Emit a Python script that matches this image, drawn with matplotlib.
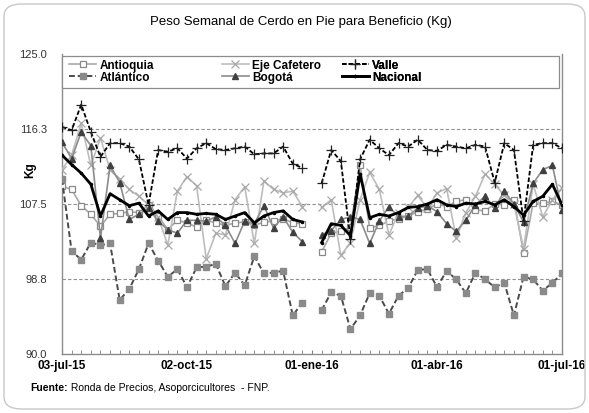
import numpy as np
import matplotlib
matplotlib.use("Agg")
import matplotlib.pyplot as plt
from matplotlib.patches import FancyBboxPatch, Rectangle

plt.rcParams['font.family'] = ['Liberation Sans', 'DejaVu Sans']

nan = np.nan
weeks = np.arange(53)
tick_weeks = [0, 13, 26, 39, 52]
tick_labels = ["03-jul-15", "02-oct-15", "01-ene-16", "01-abr-16", "01-jul-16"]
y_ticks = [90.0, 98.8, 107.5, 116.3, 125.0]

antioquia = [109.6, 109.2, 107.3, 106.3, 104.9, 106.3, 106.4, 106.6, 106.5, 107.4,
             106.1, 104.5, 105.6, 105.3, 104.8, 105.6, 105.3, 105.0, 105.3, 105.4,
             105.0, 105.4, 105.5, 105.8, 105.3, 105.2, nan, 101.9, 104.1, 104.3,
             104.8, 112.0, 104.7, 105.0, 105.5, 105.8, 106.1, 106.6, 106.9, 107.5,
             107.2, 107.8, 108.0, 106.8, 106.7, 107.5, 107.4, 108.0, 101.8, 107.6,
             107.6, 107.8, 107.4]
atlantico = [110.4, 102.0, 101.0, 103.0, 102.7, 102.9, 96.3, 97.6, 99.9, 102.9,
             100.9, 99.0, 99.9, 97.8, 100.1, 100.2, 100.5, 97.9, 99.5, 98.0,
             101.4, 99.4, 99.5, 99.7, 94.5, 96.0, nan, 95.1, 97.2, 96.8,
             92.9, 94.5, 97.1, 96.8, 94.7, 96.8, 97.7, 99.8, 99.9, 97.8,
             99.7, 98.7, 97.1, 99.5, 98.7, 97.8, 98.3, 94.5, 99.0, 98.7,
             97.4, 98.3, 99.4]
eje_cafetero = [111.5, 113.2, 116.9, 112.0, 115.2, 111.5, 110.4, 109.2, 108.4, 107.4,
                106.0, 102.7, 109.0, 110.7, 109.6, 101.1, 104.1, 103.9, 108.0, 109.5,
                102.9, 110.2, 109.2, 108.8, 109.0, 107.2, nan, 107.1, 108.0, 101.5,
                103.0, 108.0, 111.2, 109.2, 103.9, 106.5, 107.1, 108.5, 107.0, 108.8,
                109.3, 103.5, 106.5, 108.4, 111.0, 109.8, 108.5, 107.5, 102.3, 109.8,
                106.0, 108.0, 109.4]
bogota = [114.7, 112.8, 115.9, 114.3, 103.5, 112.0, 110.0, 105.7, 106.3, 107.0,
          105.5, 104.5, 104.1, 105.6, 105.6, 105.5, 106.0, 105.0, 102.9, 105.5,
          105.2, 107.3, 104.7, 106.0, 104.2, 103.1, nan, 103.9, 104.4, 105.7,
          106.0, 105.7, 102.9, 105.5, 107.2, 106.0, 106.1, 107.0, 107.3, 106.6,
          105.2, 104.3, 105.6, 107.4, 108.4, 107.0, 109.0, 107.5, 105.4, 109.9,
          111.5, 112.0, 106.8]
valle = [116.5, 116.1, 119.1, 115.9, 113.0, 114.6, 114.6, 114.2, 112.7, 107.4,
         113.8, 113.6, 114.0, 112.8, 114.0, 114.6, 113.9, 113.8, 114.0, 114.2,
         113.3, 113.4, 113.4, 114.2, 112.2, 111.7, nan, 109.9, 113.8, 112.5,
         103.4, 112.7, 115.0, 114.0, 113.2, 114.6, 114.2, 115.0, 113.8, 113.7,
         114.4, 114.2, 114.0, 114.4, 114.2, 110.0, 114.6, 113.8, 105.5, 114.4,
         114.6, 114.6, 114.0]
nacional = [113.2, 112.1, 111.1, 109.8, 106.1, 108.7, 108.0, 107.3, 107.6, 106.1,
            106.7, 105.7, 106.5, 106.5, 106.3, 106.4, 106.3, 105.7, 106.1, 106.5,
            105.3, 106.1, 106.5, 106.7, 105.7, 105.4, nan, 103.0, 105.2, 105.0,
            103.8, 111.0, 105.9, 106.3, 106.1, 106.5, 107.1, 107.2, 107.5, 108.0,
            107.4, 107.2, 107.6, 107.5, 107.8, 107.4, 108.0, 107.2, 106.2, 107.8,
            108.4, 109.8, 107.4]

fig = plt.figure(figsize=(5.89, 4.13), dpi=100)
ax = fig.add_axes([62/589, 59/413, 500/589, 300/413])

# outer rounded frame
fig.add_artist(FancyBboxPatch((4/589, 4/413), 581/589, 405/413,
                              boxstyle="round,pad=0,rounding_size=0.03",
                              transform=fig.transFigure, fill=False,
                              edgecolor='#c8c8c8', linewidth=1.0))

h_ant, = ax.plot(weeks, antioquia, color='#a8a8a8', lw=1.2, marker='s', ms=4.2,
                 mfc='white', mec='#8a8a8a', mew=0.9, zorder=3)
h_atl, = ax.plot(weeks, atlantico, color='#4a4a4a', lw=1.4, ls=(0, (3, 1.5)),
                 marker='s', ms=4, mfc='#8a8a8a', mec='#8a8a8a', zorder=3)
h_eje, = ax.plot(weeks, eje_cafetero, color='#bdbdbd', lw=1.2, marker='x', ms=6,
                 mec='#a8a8a8', mew=0.9, zorder=3)
h_bog, = ax.plot(weeks, bogota, color='#8c8c8c', lw=1.2, marker='^', ms=4.5,
                 mfc='#404040', mec='#404040', zorder=4)
h_val, = ax.plot(weeks, valle, color='black', lw=1.3, ls=(0, (2.5, 1.2)),
                 marker='+', ms=7, mew=0.9, mec='#222222', zorder=5)
h_nac, = ax.plot(weeks, nacional, color='black', lw=2.0, marker='o', ms=1.5,
                 zorder=6)

ax.set_xlim(0, 52)
ax.set_ylim(90, 125)
ax.set_yticks(y_ticks)
ax.set_yticklabels([f"{v:.1f}" for v in y_ticks], fontsize=8)
ax.tick_params(axis='y', length=0, pad=11, colors='#333333')
ax.set_xticks(tick_weeks)
ax.set_xticklabels(tick_labels, fontsize=8.5, fontweight='bold')
ax.set_xticks(weeks, minor=True)
ax.tick_params(axis='x', which='both', direction='in', length=3, color='#808080',
               pad=4)
for y in [98.8, 107.5, 116.3]:
    ax.axhline(y, color='#909090', lw=0.8, ls=(0, (3, 2)), zorder=1)

for s in ['left', 'bottom', 'right']:
    ax.spines[s].set_color('#8c8c8c')
    ax.spines[s].set_linewidth(1.0)
ax.spines['top'].set_visible(False)

# legend box
ax.add_patch(Rectangle((0.0, 0.888), 0.993, 0.106, transform=ax.transAxes,
                       fill=True, facecolor='white', edgecolor='#8c8c8c', lw=0.9,
                       zorder=7, clip_on=False))
groups = [([h_ant, h_atl], ["Antioquia", "Atlántico"], 0.0),
          ([h_eje, h_bog], ["Eje Cafetero", "Bogotá"], 0.305),
          ([h_val, h_nac], ["Valle", "Nacional"], 0.545)]
for hs, labs, x0 in groups:
    leg = ax.legend(hs, labs, loc='upper left', bbox_to_anchor=(x0, 1.005),
                    frameon=False, prop={'weight': 'bold', 'size': 8.5},
                    handlelength=2.3, handletextpad=0.3, labelspacing=0.0,
                    borderaxespad=0.2)
    leg.set_zorder(8)
    ax.add_artist(leg)

fig.text(0.51, 1 - 22/413, "Peso Semanal de Cerdo en Pie para Beneficio (Kg)",
         ha='center', va='center', fontsize=9.5)
fig.text(30/589, 1 - 170/413, "Kg", rotation=90, ha='center', va='center',
         fontsize=8.5, fontweight='bold')
t1 = fig.text(30/589, 1 - 388/413, "Fuente:", ha='left', va='center',
              fontsize=7.5, fontweight='bold')
ax.annotate(" Ronda de Precios, Asoporcicultores  - FNP.", xy=(1, 0.5),
            xycoords=t1, ha='left', va='center', fontsize=7.5,
            annotation_clip=False)

fig.savefig("out.png", dpi=100)
